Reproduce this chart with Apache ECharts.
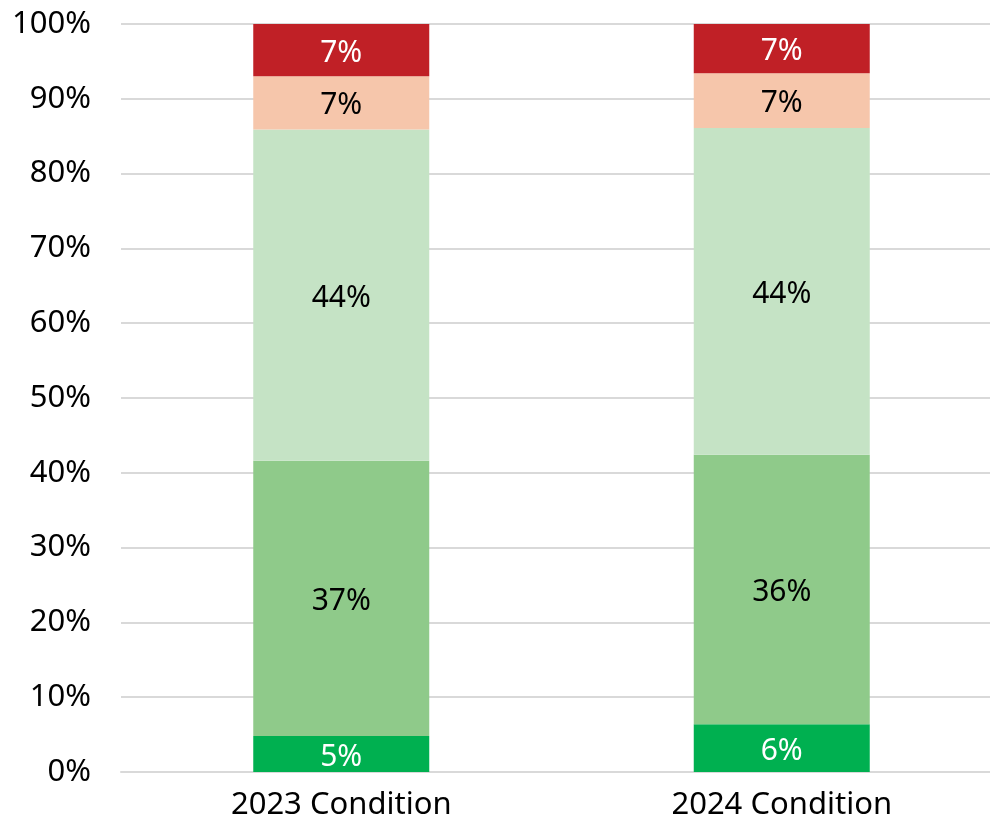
<!DOCTYPE html>
<html>
<head>
<meta charset="utf-8">
<script src="https://cdn.jsdelivr.net/npm/echarts@6/dist/echarts.min.js"></script>
<style>
  html, body { margin: 0; padding: 0; background: #fff; }
  #chart { width: 990px; height: 821px; }
</style>
</head>
<body>
<div id="chart"></div>
<script>
var categories = ['2023 Condition', '2024 Condition'];
// shares per condition band, bottom to top
var veryGood = [4.8, 6.4];
var good = [36.8, 36.0];
var fair = [44.3, 43.7];
var poor = [7.1, 7.3];
var veryPoor = [7.0, 6.6];

var yTicks = [0, 10, 20, 30, 40, 50, 60, 70, 80, 90, 100];

var fontFamily = 'Noto Sans';

var chart = echarts.init(document.getElementById('chart'));

function band(name, data, color, labelColor) {
    return {
        name: name,
        type: 'bar',
        stack: 'total',
        data: data,
        barWidth: 176,
        itemStyle: { color: color },
        label: {
            show: true,
            position: 'inside',
            offset: [0, 3],
            color: labelColor,
            fontFamily: fontFamily,
            fontSize: 30,
            formatter: function (p) { return Math.round(p.value) + '%'; }
        },
        emphasis: { disabled: true }
    };
}

var option = {
    animation: false,
    backgroundColor: '#ffffff',
    grid: {
        left: 121, top: 24, width: 881, bottom: 49,
        containLabel: false,
        outerBoundsMode: 'none'
    },
    xAxis: {
        type: 'category',
        data: categories,
        axisLine: { show: true, lineStyle: { color: '#d9d9d9', width: 2 } },
        axisTick: { show: false },
        axisLabel: { color: '#000', fontFamily: fontFamily, fontSize: 31, margin: 18 }
    },
    yAxis: {
        type: 'value',
        min: 0,
        max: 100,
        interval: 10,
        axisLine: { show: false },
        axisTick: { show: false },
        splitLine: { lineStyle: { color: '#d9d9d9', width: 2 } },
        axisLabel: {
            color: '#000',
            fontFamily: fontFamily,
            fontSize: 31,
            margin: 30,
            padding: [5, 0, 0, 0],
            formatter: function (v) { return yTicks.indexOf(v) >= 0 ? v + '%' : ''; }
        }
    },
    series: [
        band('Very Good', veryGood, '#00b050', '#ffffff'),
        band('Good', good, '#8fca8a', '#000000'),
        band('Fair', fair, '#c5e3c5', '#000000'),
        band('Poor', poor, '#f6c6ab', '#000000'),
        band('Very Poor', veryPoor, '#c02026', '#ffffff')
    ]
};

chart.setOption(option);
</script>
</body>
</html>
